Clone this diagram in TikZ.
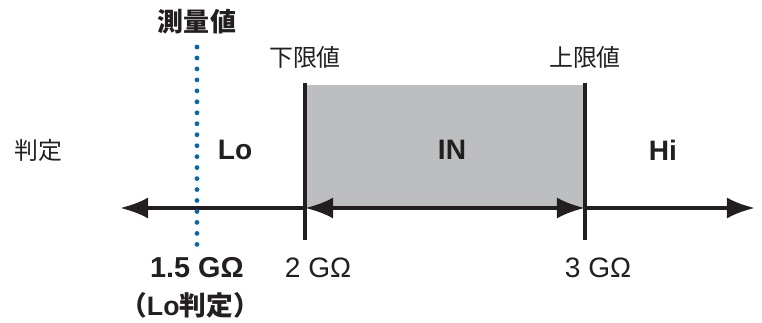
\documentclass[tikz,border=0pt]{standalone}
\usepackage{fontspec}
\setmainfont{Liberation Sans}
\newfontfamily\jpfont{Noto Sans CJK JP}
\usepackage{xcolor}
\usepackage{tikz}
\usetikzlibrary{arrows.meta, positioning}
\definecolor{RGInk}{RGB}{35,31,32}
\definecolor{RGGray}{RGB}{188,190,192}
\definecolor{RGBlue}{RGB}{0,104,183}

\begin{document}
\begin{tikzpicture}[
          >={Latex[length=20pt, width=15pt]},
          lbl/.style={font=\fontsize{20}{22}\selectfont, text=RGInk, inner sep=0pt},
          jlbl/.style={font=\jpfont\fontsize{17}{19}\selectfont, text=RGInk, inner sep=0pt},
          zone/.style={font=\fontsize{20}{22}\selectfont\bfseries, text=RGInk, inner sep=0pt},
          arr/.style={line width=2.8pt, RGInk},
          lim/.style={line width=2.6pt, RGInk},
          meas/.style={RGBlue, line width=3.4pt, line cap=round,
                       dash pattern=on 0pt off 7.8pt}
        ]
        \useasboundingbox (0,0) rectangle (19.05,8.05);

        % axis points
        \coordinate (lft) at (3.0, 2.85);
        \coordinate (lo) at (7.625, 2.85);
        \coordinate (up) at (14.625, 2.85);
        \coordinate (rgt) at (18.875, 2.85);
        \coordinate (lotop) at (7.625, 5.975);
        \coordinate (lobot) at (7.625, 2.05);
        \coordinate (uptop) at (14.625, 5.975);
        \coordinate (upbot) at (14.625, 2.05);
        \coordinate (infill) at (14.625, 5.925);

        % IN band
        \fill[RGGray] (lo) rectangle (infill);

        % limit lines
        \draw[lim] (lotop)--(lobot);
        \draw[lim] (uptop)--(upbot);

        % axis arrows
        \draw[arr, ->] (lo)--(lft);
        \draw[arr, <->] (lo)--(up);
        \draw[arr, ->] (up)--(rgt);

        % measured value
        \node[jlbl, font=\jpfont\fontsize{18.5}{20}\selectfont\bfseries]
              (mlab) at (4.925, 7.5) {測量値};
        \coordinate (mtop) at (4.925, 6.875);
        \coordinate (mbot) at (4.925, 1.925);
        \draw[meas] (mtop)--(mbot);

        % limit labels
        \node[jlbl] (lolab) at (7.625, 6.625) {下限値};
        \node[jlbl] (uplab) at (14.625, 6.625) {上限値};

        % judgement
        \node[jlbl] (judge) at (0.95, 4.3) {判定};
        \node[zone] (zlo) at (5.875, 4.3) {Lo};
        \node[zone] (zin) at (11.3, 4.3) {IN};
        \node[zone] (zhi) at (16.575, 4.3) {Hi};

        % values
        \node[lbl, font=\fontsize{20.5}{22}\selectfont\bfseries]
              (mval) at (4.925, 1.35) {1.5 GΩ};
        \node[lbl] (loval) at (7.95, 1.35) {2 GΩ};
        \node[lbl] (upval) at (14.95, 1.35) {3 GΩ};
        \node[lbl, font=\fontsize{19}{21}\selectfont\bfseries]
              (mres) at (4.75, 0.425) {{\jpfont （}Lo{\jpfont 判定）}};
      \end{tikzpicture}
\end{document}
